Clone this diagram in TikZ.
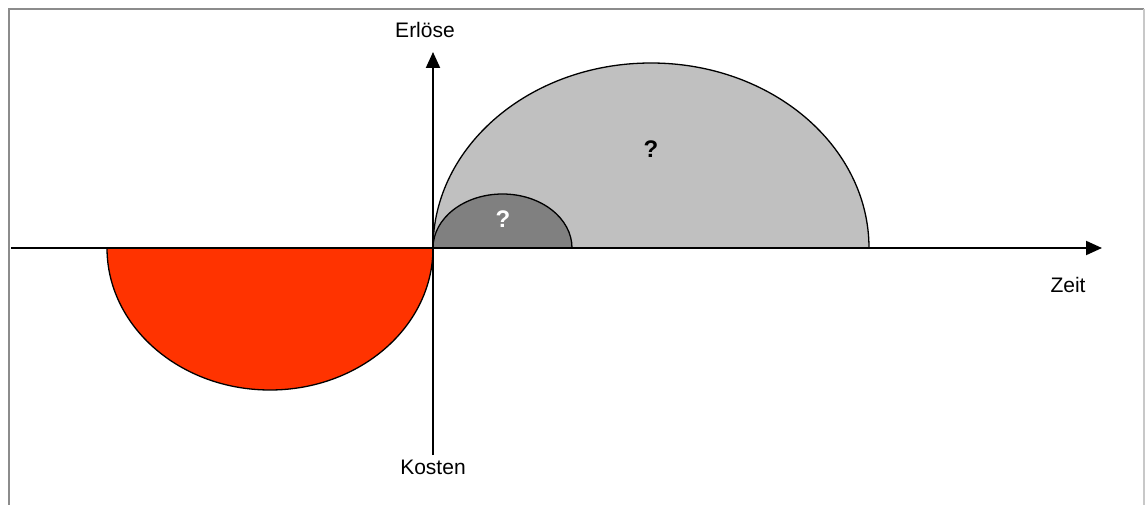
\documentclass[tikz,border=0pt]{standalone}
\usepackage{fontspec}
\setmainfont{Liberation Sans}
\usetikzlibrary{arrows.meta}
\definecolor{lightg}{HTML}{C0C0C0}
\definecolor{darkg}{HTML}{808080}
\definecolor{redfill}{HTML}{FF3300}
\definecolor{frameg}{HTML}{8C8C8C}
\definecolor{framel}{HTML}{C8C8C8}
\tikzset{
  axis/.style={line width=2pt,-{Triangle[length=16pt,width=14pt]}},
  lobe/.style={draw=black,line width=1.3pt},
  lbl/.style={font=\fontsize{21}{24}\selectfont,inner sep=0pt},
  qm/.style={font=\fontsize{24}{27}\selectfont\bfseries,inner sep=0pt}
}
\begin{document}
\begin{tikzpicture}[x=1pt,y=1pt]
\useasboundingbox (0,0) rectangle (1145,504);
% frame
\draw[frameg,line width=2pt] (9,-5) -- (9,495) -- (1144,495);
\draw[framel,line width=1.5pt] (1144,495) -- (1144,-5);
% lobes
\filldraw[lobe,fill=lightg] (869,256) arc (0:180:218 and 185) -- cycle;
\filldraw[lobe,fill=darkg] (572,256) arc (0:180:69.5 and 54) -- cycle;
\filldraw[lobe,fill=redfill] (433,256) arc (0:-180:163 and 142) -- cycle;
% axes
\coordinate (xs) at (11,256);
\coordinate (xe) at (1102,256);
\coordinate (ys) at (433,49);
\coordinate (ye) at (433,452);
\draw[axis] (xs) -- (xe);
\draw[axis] (ys) -- (ye);
% labels
\node[lbl] (erl) at (425,474) {Erlöse};
\node[lbl] (kos) at (433,37) {Kosten};
\node[lbl] (zeit) at (1068,219) {Zeit};
\node[qm] (q1) at (651,355) {?};
\node[qm,text=white] (q2) at (503,285) {?};
\end{tikzpicture}
\end{document}
